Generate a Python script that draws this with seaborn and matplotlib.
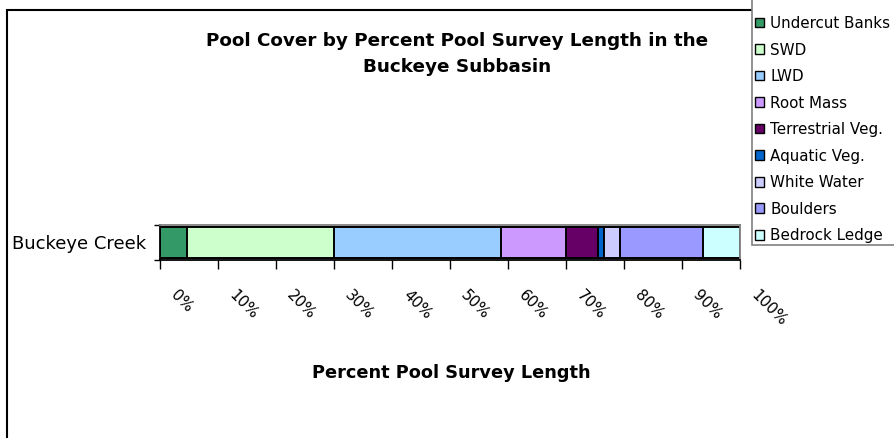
import matplotlib
matplotlib.use("Agg")
import matplotlib.pyplot as plt
from matplotlib.patches import Rectangle, Patch
from matplotlib.transforms import ScaledTranslation
import pandas as pd
import seaborn as sns

# Pool cover composition along the surveyed pool length
creek = ["Buckeye Creek"]
cover_types = ["Undercut Banks", "SWD", "LWD", "Root Mass", "Terrestrial Veg.",
               "Aquatic Veg.", "White Water", "Boulders", "Bedrock Ledge"]
percent_length = [4.6, 25.4, 28.8, 11.2, 5.6, 0.9, 2.8, 14.3, 6.4]
cover_colors = ["#339966", "#CCFFCC", "#99CCFF", "#CC99FF", "#660066",
                "#0066CC", "#CCCCFF", "#9999FF", "#CCFFFF"]
tick_values = [0, 10, 20, 30, 40, 50, 60, 70, 80, 90, 100]
tick_labels = [f"{v}%" for v in tick_values]

title_text = "Pool Cover by Percent Pool Survey Length in the\nBuckeye Subbasin"
xlabel_text = "Percent Pool Survey Length"

sns.set_theme(style="white")
plt.rcParams["font.family"] = ["DejaVu Sans"]
plt.rcParams["text.color"] = "black"
plt.rcParams["xtick.color"] = "black"
plt.rcParams["ytick.color"] = "black"
plt.rcParams["xtick.labelcolor"] = "black"
plt.rcParams["ytick.labelcolor"] = "black"

W, H = 894, 438
fig = plt.figure(figsize=(W / 100, H / 100), dpi=100)
fig.patch.set_facecolor("white")


def px_box(x0, y0, x1, y1):
    return [x0 / W, 1 - y1 / H, (x1 - x0) / W, (y1 - y0) / H]


def fx(x):
    return x / W


def fy(y):
    return 1 - y / H


# outer chart frame
fig.add_artist(Rectangle((fx(7), fy(460)), fx(920) - fx(7), fy(10.5) - fy(460),
                         transform=fig.transFigure, fill=False,
                         edgecolor="black", linewidth=1.5, zorder=0))

ax = fig.add_axes(px_box(160, 225, 740, 260))
ax.set_facecolor("white")

df = pd.DataFrame({
    "creek": creek * len(cover_types),
    "cover": cover_types,
    "percent": percent_length,
})
df["cumulative"] = df["percent"].cumsum()

# stacked bar: draw cumulative totals from the longest down
for i in reversed(range(len(df))):
    sns.barplot(data=df.iloc[[i]], x="cumulative", y="creek", orient="h",
                color=cover_colors[i], saturation=1, edgecolor="black",
                linewidth=1.4, width=0.86, errorbar=None, ax=ax)

ax.set_xlim(0, 100)
ax.set_ylim(0.5, -0.5)
ax.set_xlabel("")
ax.set_ylabel("")

for side in ["left", "bottom"]:
    ax.spines[side].set_color("black")
    ax.spines[side].set_linewidth(1.3)
for side in ["top", "right"]:
    ax.spines[side].set_color("#808080")
    ax.spines[side].set_linewidth(1.3)

ax.set_xticks(tick_values)
ax.set_xticklabels(tick_labels, rotation=-45, ha="left", va="top",
                   rotation_mode="default", fontsize=11)
ax.tick_params(axis="x", bottom=True, direction="out", length=6.5, width=1,
               color="black", pad=13.5)
offset = ScaledTranslation(0.08, 0, fig.dpi_scale_trans)
for lab in ax.get_xticklabels():
    lab.set_transform(lab.get_transform() + offset)

ax.set_yticks([0])
ax.set_yticklabels(creek, fontsize=13)
ax.set_yticks([-0.5, 0.5], minor=True)
ax.tick_params(axis="y", which="major", left=True, length=0, pad=10)
ax.tick_params(axis="y", which="minor", left=True, direction="out",
               length=4, width=1, color="black")

fig.text(fx(457), fy(54), title_text, ha="center", va="center",
         fontsize=13.2, fontweight="bold", linespacing=1.6)
fig.text(fx(451), fy(373), xlabel_text, ha="center", va="center",
         fontsize=12.8, fontweight="bold")

# legend box running off the top and right edges
fig.add_artist(Rectangle((fx(752), fy(245)), fx(920) - fx(752), fy(-5) - fy(245),
                         transform=fig.transFigure, facecolor="white",
                         edgecolor="#808080", linewidth=1.2, zorder=1))
handles = [Patch(facecolor=c, edgecolor="black", linewidth=1.0) for c in cover_colors]
leg = fig.legend(handles, cover_types, loc="upper left",
                 bbox_to_anchor=(fx(755), fy(16)), frameon=False,
                 fontsize=10.9, handlelength=0.6, handleheight=0.6,
                 handletextpad=0.4, labelspacing=0.76, borderpad=0,
                 borderaxespad=0)
leg.set_zorder(2)

fig.savefig("out.png", dpi=100, facecolor="white")
